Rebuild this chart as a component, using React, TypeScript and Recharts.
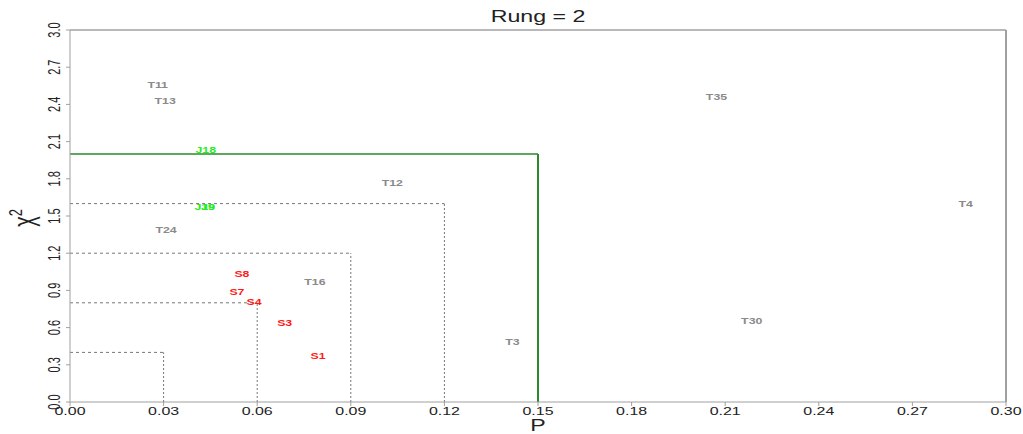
import { ReferenceLine, Scatter, ScatterChart, XAxis, YAxis } from 'recharts';

const xTicks = [0, 0.03, 0.06, 0.09, 0.12, 0.15, 0.18, 0.21, 0.24, 0.27, 0.3];
const yTicks = [0, 0.3, 0.6, 0.9, 1.2, 1.5, 1.8, 2.1, 2.4, 2.7, 3.0];

// labels, one group per colour
const grayNames = ['T11', 'T13', 'T24', 'T16', 'T12', 'T3', 'T35', 'T30', 'T4'];
const grayP = [0.0281, 0.0305, 0.0308, 0.0785, 0.1033, 0.1418, 0.2072, 0.2185, 0.2871];
const grayChi = [2.56, 2.43, 1.39, 0.97, 1.77, 0.48, 2.46, 0.65, 1.6];

const redNames = ['S8', 'S7', 'S4', 'S3', 'S1'];
const redP = [0.0551, 0.0535, 0.059, 0.0688, 0.0795];
const redChi = [1.03, 0.89, 0.81, 0.64, 0.37];

const greenNames = ['J18', 'J19', 'J9'];
const greenP = [0.0435, 0.0432, 0.0442];
const greenChi = [2.03, 1.57, 1.57];

// nested cut-off boxes
const boxP = [0.03, 0.06, 0.09, 0.12];
const boxChi = [0.4, 0.8, 1.2, 1.6];
const cutP = 0.15;
const cutChi = 2.0;

const rows = (names: string[], p: number[], chi: number[]) =>
  names.map((name, i) => ({ name, p: p[i], chi: chi[i] }));

const grayData = rows(grayNames, grayP, grayChi);
const redData = rows(redNames, redP, redChi);
const greenData = rows(greenNames, greenP, greenChi);

const FONT = '"Liberation Sans", Arial, sans-serif';
const SX = 1.45; // the original is stretched horizontally
const AXIS = '#a0a0a0';

const labelShape = (color: string) => (props: any) => {
  const { cx, cy, payload } = props;
  return (
    <text
      transform={`translate(${cx},${cy}) scale(${SX},1)`}
      y={3}
      textAnchor="middle"
      fontFamily={FONT}
      fontWeight="bold"
      fontSize={8.5}
      fill={color}
    >
      {payload.name}
    </text>
  );
};

const XTick = (props: any) => {
  const { x, y, payload } = props;
  return (
    <text
      transform={`translate(${x},${y + 7}) scale(${SX},1)`}
      textAnchor="middle"
      fontFamily={FONT}
      fontSize={11}
      fill="#222"
    >
      {payload.value.toFixed(2)}
    </text>
  );
};

const YTick = (props: any) => {
  const { x, y, payload } = props;
  return (
    <text
      transform={`translate(${x - 4},${y}) rotate(-90) scale(1,${SX})`}
      textAnchor="middle"
      fontFamily={FONT}
      fontSize={11}
      fill="#222"
    >
      {payload.value.toFixed(1)}
    </text>
  );
};

export default function App() {
  return (
    <div>
      <style>{'body{margin:0}'}</style>
      <ScatterChart width={1023} height={434} margin={{ top: 30, right: 17, bottom: 0, left: 0 }}>
        <XAxis
          type="number"
          dataKey="p"
          domain={[0, 0.3]}
          ticks={xTicks}
          interval={0}
          height={32}
          stroke={AXIS}
          tickSize={4}
          tick={<XTick />}
          label={{
            content: (p: any) => (
              <text
                transform={`translate(${p.viewBox.x + p.viewBox.width / 2},431) scale(${SX},1)`}
                textAnchor="middle"
                fontFamily={FONT}
                fontSize={16}
                fill="#222"
              >
                P
              </text>
            ),
          }}
        />
        <YAxis
          type="number"
          dataKey="chi"
          domain={[0, 3]}
          ticks={yTicks}
          interval={0}
          width={70}
          stroke={AXIS}
          tickSize={4}
          tick={<YTick />}
          label={{
            content: (p: any) => (
              <text
                transform={`translate(34,${p.viewBox.y + p.viewBox.height / 2 + 2}) rotate(-90) scale(1,${SX})`}
                textAnchor="middle"
                fontFamily={FONT}
                fontSize={20}
                fill="#222"
              >
                χ<tspan fontSize={13} dy={-8}>2</tspan>
              </text>
            ),
          }}
        />
        <ReferenceLine
          y={3}
          stroke={AXIS}
          strokeWidth={1.5}
          label={{
            content: (p: any) => (
              <text
                transform={`translate(${p.viewBox.x + p.viewBox.width / 2},${p.viewBox.y - 8}) scale(${SX},1)`}
                textAnchor="middle"
                fontFamily={FONT}
                fontSize={16}
                fill="#222"
              >
                Rung = 2
              </text>
            ),
          }}
        />
        <ReferenceLine x={0.3} stroke={AXIS} strokeWidth={2} />
        {boxP.map((bp, i) => (
          <ReferenceLine
            key={`h${i}`}
            segment={[{ x: 0, y: boxChi[i] }, { x: bp, y: boxChi[i] }]}
            stroke="#777"
            strokeDasharray="3 3"
          />
        ))}
        {boxP.map((bp, i) => (
          <ReferenceLine
            key={`v${i}`}
            segment={[{ x: bp, y: 0 }, { x: bp, y: boxChi[i] }]}
            stroke="#777"
            strokeDasharray="2 2"
          />
        ))}
        <ReferenceLine segment={[{ x: 0, y: cutChi }, { x: cutP, y: cutChi }]} stroke="#2a8a2a" strokeWidth={1.5} />
        <ReferenceLine segment={[{ x: cutP, y: 0 }, { x: cutP, y: cutChi }]} stroke="#2a8a2a" strokeWidth={2} />
        <Scatter data={grayData} shape={labelShape('#8a8a8a')} isAnimationActive={false} />
        <Scatter data={redData} shape={labelShape('#ff1a1a')} isAnimationActive={false} />
        <Scatter data={greenData} shape={labelShape('#22ee22')} isAnimationActive={false} />
      </ScatterChart>
    </div>
  );
}
